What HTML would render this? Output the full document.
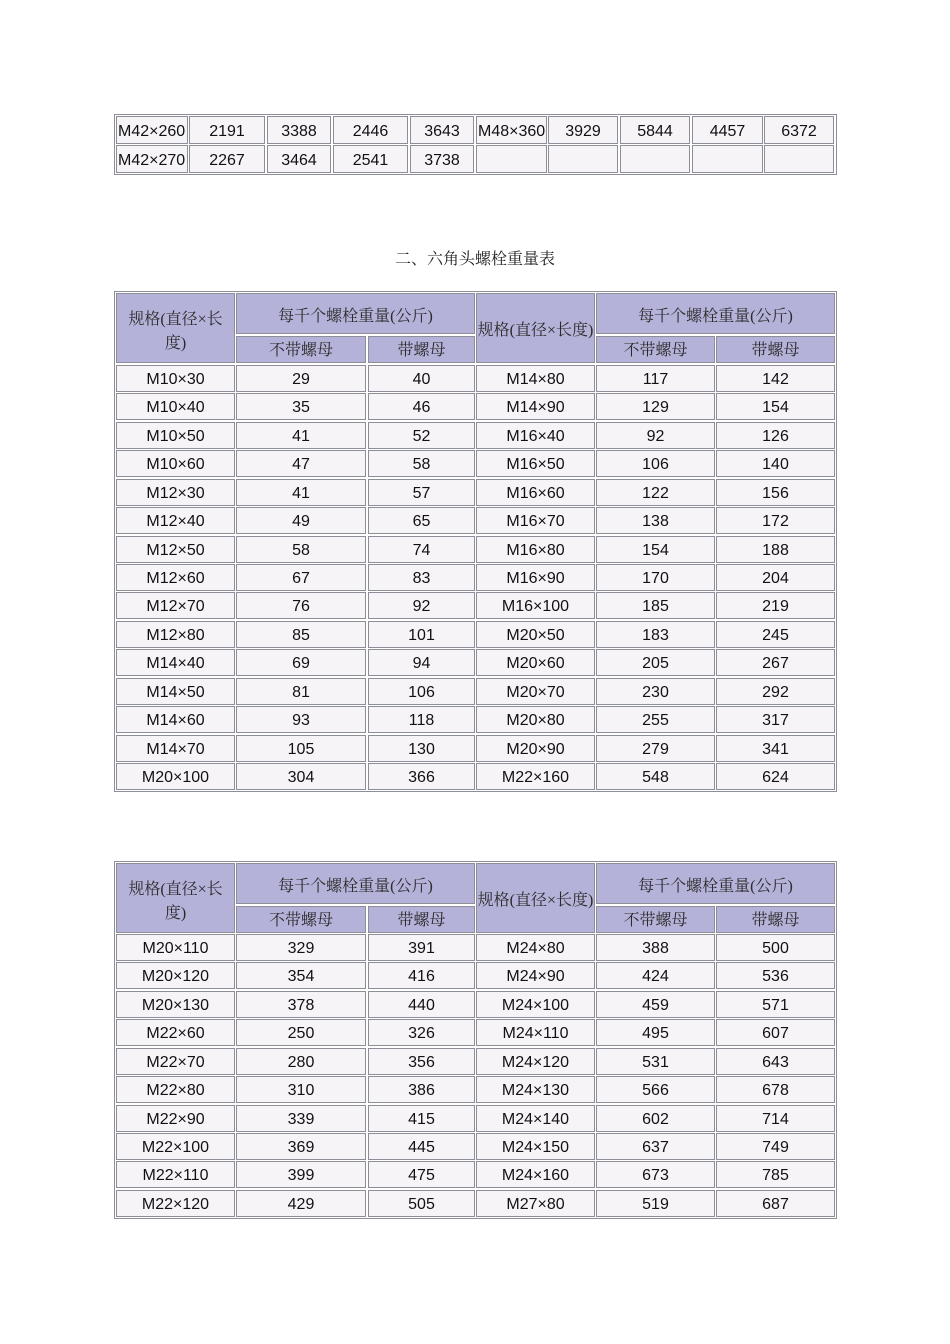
<!DOCTYPE html>
<html>
<head>
<meta charset="utf-8">
<style>
html,body{margin:0;padding:0;background:#fff;}
body{width:950px;height:1344px;position:relative;overflow:hidden;font-family:"Liberation Sans","Noto Sans CJK SC",sans-serif;}
.t{position:absolute;border:1px solid #8e8e98;box-sizing:border-box;}
.c{position:absolute;box-sizing:border-box;border:1px solid #8e8e98;background:#f7f4f8;color:#111;font-size:16px;text-align:center;white-space:nowrap;overflow:hidden;}
.h{background:#b4b2d8;color:#2a2a2a;font-family:"Liberation Serif","Noto Serif CJK SC",serif;}
.r{position:absolute;left:0;width:950px;height:27px;}
.r .c{top:0;height:27px;line-height:24px;padding-top:2px;}
.k1{left:116px;width:119px;}
.k2{left:236px;width:130px;}
.k3{left:368px;width:107px;}
.k4{left:476px;width:119px;}
.k5{left:596px;width:119px;}
.k6{left:716px;width:119px;}
.r1{position:absolute;left:0;width:950px;height:28px;}
.r1 .c{top:0;height:28px;line-height:26px;padding-top:2px;}
.a1{left:116px;width:72px;text-align:left;padding-left:1px;}
.a2{left:189px;width:76px;}
.a3{left:267px;width:64px;}
.a4{left:333px;width:75px;}
.a5{left:410px;width:64px;}
.a6{left:476px;width:71px;text-align:left;padding-left:1px;}
.a7{left:548px;width:70px;}
.a8{left:620px;width:70px;}
.a9{left:692px;width:71px;}
.a10{left:764px;width:70px;}
.title{position:absolute;left:0;width:950px;top:250px;height:20px;line-height:20px;text-align:center;font-size:16px;color:#222;font-family:"Liberation Serif","Noto Serif CJK SC",serif;}
.h2{height:27px;line-height:24px;padding-top:2px;}
</style>
</head>
<body>

<!-- Table 1 -->
<div class="t" style="left:114px;top:114px;width:723px;height:61px;"></div>
<div class="r1" style="top:116px">
<div class="c a1">M42×260</div><div class="c a2">2191</div><div class="c a3">3388</div><div class="c a4">2446</div><div class="c a5">3643</div><div class="c a6">M48×360</div><div class="c a7">3929</div><div class="c a8">5844</div><div class="c a9">4457</div><div class="c a10">6372</div>
</div>
<div class="r1" style="top:145px">
<div class="c a1">M42×270</div><div class="c a2">2267</div><div class="c a3">3464</div><div class="c a4">2541</div><div class="c a5">3738</div><div class="c a6"></div><div class="c a7"></div><div class="c a8"></div><div class="c a9"></div><div class="c a10"></div>
</div>

<div class="title">二、六角头螺栓重量表</div>

<!-- Table 2 -->
<div class="t" style="left:114px;top:291px;width:723px;height:501px;"></div>
<div class="c h" style="left:116px;top:293px;width:119px;height:70px;line-height:24px;padding-top:14px;">规格(直径×长<br>度)</div>
<div class="c h" style="left:236px;top:293px;width:239px;height:41px;line-height:38px;padding-top:4px;">每千个螺栓重量(公斤)</div>
<div class="c h" style="left:476px;top:293px;width:119px;height:70px;line-height:68px;padding-top:3px;">规格(直径×长度)</div>
<div class="c h" style="left:596px;top:293px;width:239px;height:41px;line-height:38px;padding-top:4px;">每千个螺栓重量(公斤)</div>
<div class="c h h2" style="left:236px;top:336px;width:130px;">不带螺母</div>
<div class="c h h2" style="left:368px;top:336px;width:107px;">带螺母</div>
<div class="c h h2" style="left:596px;top:336px;width:119px;">不带螺母</div>
<div class="c h h2" style="left:716px;top:336px;width:119px;">带螺母</div>

<div class="r" style="top:365px"><div class="c k1">M10×30</div><div class="c k2">29</div><div class="c k3">40</div><div class="c k4">M14×80</div><div class="c k5">117</div><div class="c k6">142</div></div>
<div class="r" style="top:393px"><div class="c k1">M10×40</div><div class="c k2">35</div><div class="c k3">46</div><div class="c k4">M14×90</div><div class="c k5">129</div><div class="c k6">154</div></div>
<div class="r" style="top:422px"><div class="c k1">M10×50</div><div class="c k2">41</div><div class="c k3">52</div><div class="c k4">M16×40</div><div class="c k5">92</div><div class="c k6">126</div></div>
<div class="r" style="top:450px"><div class="c k1">M10×60</div><div class="c k2">47</div><div class="c k3">58</div><div class="c k4">M16×50</div><div class="c k5">106</div><div class="c k6">140</div></div>
<div class="r" style="top:479px"><div class="c k1">M12×30</div><div class="c k2">41</div><div class="c k3">57</div><div class="c k4">M16×60</div><div class="c k5">122</div><div class="c k6">156</div></div>
<div class="r" style="top:507px"><div class="c k1">M12×40</div><div class="c k2">49</div><div class="c k3">65</div><div class="c k4">M16×70</div><div class="c k5">138</div><div class="c k6">172</div></div>
<div class="r" style="top:536px"><div class="c k1">M12×50</div><div class="c k2">58</div><div class="c k3">74</div><div class="c k4">M16×80</div><div class="c k5">154</div><div class="c k6">188</div></div>
<div class="r" style="top:564px"><div class="c k1">M12×60</div><div class="c k2">67</div><div class="c k3">83</div><div class="c k4">M16×90</div><div class="c k5">170</div><div class="c k6">204</div></div>
<div class="r" style="top:592px"><div class="c k1">M12×70</div><div class="c k2">76</div><div class="c k3">92</div><div class="c k4">M16×100</div><div class="c k5">185</div><div class="c k6">219</div></div>
<div class="r" style="top:621px"><div class="c k1">M12×80</div><div class="c k2">85</div><div class="c k3">101</div><div class="c k4">M20×50</div><div class="c k5">183</div><div class="c k6">245</div></div>
<div class="r" style="top:649px"><div class="c k1">M14×40</div><div class="c k2">69</div><div class="c k3">94</div><div class="c k4">M20×60</div><div class="c k5">205</div><div class="c k6">267</div></div>
<div class="r" style="top:678px"><div class="c k1">M14×50</div><div class="c k2">81</div><div class="c k3">106</div><div class="c k4">M20×70</div><div class="c k5">230</div><div class="c k6">292</div></div>
<div class="r" style="top:706px"><div class="c k1">M14×60</div><div class="c k2">93</div><div class="c k3">118</div><div class="c k4">M20×80</div><div class="c k5">255</div><div class="c k6">317</div></div>
<div class="r" style="top:735px"><div class="c k1">M14×70</div><div class="c k2">105</div><div class="c k3">130</div><div class="c k4">M20×90</div><div class="c k5">279</div><div class="c k6">341</div></div>
<div class="r" style="top:763px"><div class="c k1">M20×100</div><div class="c k2">304</div><div class="c k3">366</div><div class="c k4">M22×160</div><div class="c k5">548</div><div class="c k6">624</div></div>

<!-- Table 3 -->
<div class="t" style="left:114px;top:861px;width:723px;height:358px;"></div>
<div class="c h" style="left:116px;top:863px;width:119px;height:70px;line-height:24px;padding-top:14px;">规格(直径×长<br>度)</div>
<div class="c h" style="left:236px;top:863px;width:239px;height:41px;line-height:38px;padding-top:4px;">每千个螺栓重量(公斤)</div>
<div class="c h" style="left:476px;top:863px;width:119px;height:70px;line-height:68px;padding-top:3px;">规格(直径×长度)</div>
<div class="c h" style="left:596px;top:863px;width:239px;height:41px;line-height:38px;padding-top:4px;">每千个螺栓重量(公斤)</div>
<div class="c h h2" style="left:236px;top:906px;width:130px;">不带螺母</div>
<div class="c h h2" style="left:368px;top:906px;width:107px;">带螺母</div>
<div class="c h h2" style="left:596px;top:906px;width:119px;">不带螺母</div>
<div class="c h h2" style="left:716px;top:906px;width:119px;">带螺母</div>

<div class="r" style="top:934px"><div class="c k1">M20×110</div><div class="c k2">329</div><div class="c k3">391</div><div class="c k4">M24×80</div><div class="c k5">388</div><div class="c k6">500</div></div>
<div class="r" style="top:962px"><div class="c k1">M20×120</div><div class="c k2">354</div><div class="c k3">416</div><div class="c k4">M24×90</div><div class="c k5">424</div><div class="c k6">536</div></div>
<div class="r" style="top:991px"><div class="c k1">M20×130</div><div class="c k2">378</div><div class="c k3">440</div><div class="c k4">M24×100</div><div class="c k5">459</div><div class="c k6">571</div></div>
<div class="r" style="top:1019px"><div class="c k1">M22×60</div><div class="c k2">250</div><div class="c k3">326</div><div class="c k4">M24×110</div><div class="c k5">495</div><div class="c k6">607</div></div>
<div class="r" style="top:1048px"><div class="c k1">M22×70</div><div class="c k2">280</div><div class="c k3">356</div><div class="c k4">M24×120</div><div class="c k5">531</div><div class="c k6">643</div></div>
<div class="r" style="top:1076px"><div class="c k1">M22×80</div><div class="c k2">310</div><div class="c k3">386</div><div class="c k4">M24×130</div><div class="c k5">566</div><div class="c k6">678</div></div>
<div class="r" style="top:1105px"><div class="c k1">M22×90</div><div class="c k2">339</div><div class="c k3">415</div><div class="c k4">M24×140</div><div class="c k5">602</div><div class="c k6">714</div></div>
<div class="r" style="top:1133px"><div class="c k1">M22×100</div><div class="c k2">369</div><div class="c k3">445</div><div class="c k4">M24×150</div><div class="c k5">637</div><div class="c k6">749</div></div>
<div class="r" style="top:1161px"><div class="c k1">M22×110</div><div class="c k2">399</div><div class="c k3">475</div><div class="c k4">M24×160</div><div class="c k5">673</div><div class="c k6">785</div></div>
<div class="r" style="top:1190px"><div class="c k1">M22×120</div><div class="c k2">429</div><div class="c k3">505</div><div class="c k4">M27×80</div><div class="c k5">519</div><div class="c k6">687</div></div>

</body>
</html>
